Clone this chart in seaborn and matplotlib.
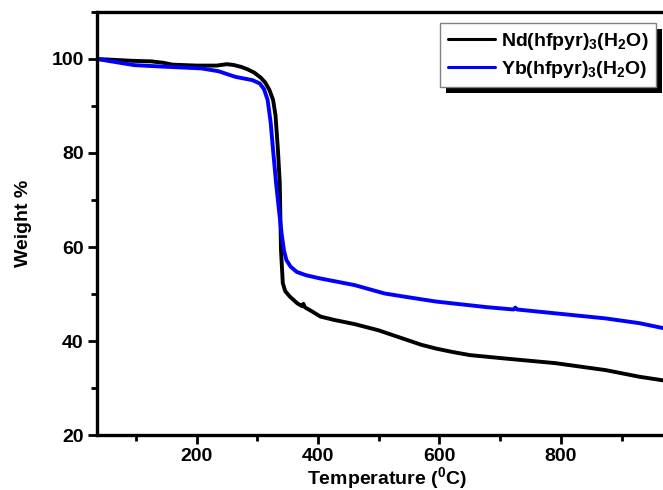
import numpy as np
import pandas as pd
import matplotlib
matplotlib.use("Agg")
import matplotlib.pyplot as plt
from matplotlib.ticker import MultipleLocator
from matplotlib.patches import Rectangle
from matplotlib.lines import Line2D
import seaborn as sns

# --- data ---
nd_temp = [36, 97, 125, 145, 160, 200, 233, 250, 262, 274, 284, 295, 306, 313, 320, 326, 330, 334, 337, 339, 342,
           346, 354, 366, 374, 376, 378, 390, 404, 426, 460, 499, 538, 570, 594, 620, 650, 706, 790, 874, 929, 985]
nd_weight = [100, 99.6, 99.5, 99.2, 98.8, 98.6, 98.6, 98.9, 98.7, 98.3, 97.8, 97.1, 96.0, 95.0, 93.4, 91.3, 88.0, 80.6, 73.6, 59.4, 52.3,
             50.6, 49.4, 48.0, 47.4, 47.9, 47.2, 46.3, 45.2, 44.5, 43.6, 42.3, 40.6, 39.2, 38.4, 37.7, 37.0, 36.3, 35.3, 33.8, 32.4, 31.3]
yb_temp = [36, 97, 141, 208, 236, 264, 292, 304, 311, 317, 322, 326, 331, 336, 340, 344, 348, 355, 365, 380, 404,
           460, 510, 544, 594, 678, 722, 725, 728, 790, 874, 929, 985]
yb_weight = [100, 98.7, 98.4, 98.0, 97.4, 96.2, 95.5, 94.8, 93.6, 91.3, 86.5, 80.6, 73.5, 67.5, 62.9, 59.2, 57.2, 55.8, 54.7, 54.0, 53.3,
             51.9, 50.1, 49.4, 48.4, 47.2, 46.7, 47.1, 46.7, 45.9, 44.8, 43.8, 42.3]
series_names = ["Nd(hfpyr)$_3$(H$_2$O)", "Yb(hfpyr)$_3$(H$_2$O)"]

df = pd.concat([
    pd.DataFrame({"Temperature": nd_temp, "Weight": nd_weight, "Sample": series_names[0]}),
    pd.DataFrame({"Temperature": yb_temp, "Weight": yb_weight, "Sample": series_names[1]}),
])

sns.set_theme(style="white")
plt.rcParams["font.family"] = ["Liberation Sans", "DejaVu Sans"]
plt.rcParams["font.weight"] = "bold"
plt.rcParams["text.color"] = "black"
plt.rcParams["axes.labelcolor"] = "black"
plt.rcParams["xtick.color"] = "black"
plt.rcParams["ytick.color"] = "black"
plt.rcParams["mathtext.fontset"] = "custom"
plt.rcParams["mathtext.rm"] = "Liberation Sans:bold"
plt.rcParams["mathtext.it"] = "Liberation Sans:bold"
plt.rcParams["mathtext.bf"] = "Liberation Sans:bold"
plt.rcParams["mathtext.default"] = "rm"

FS = 14

fig = plt.figure(figsize=(6.63, 4.90), dpi=100)
ax = fig.add_axes([97 / 663, 55 / 490, 1.02 - 97 / 663, 423 / 490])

sns.lineplot(data=df, x="Temperature", y="Weight", hue="Sample", sort=False,
             palette=["black", "#0000ff"], linewidth=2.8, ax=ax, legend=False)
for ln in ax.get_lines():
    ln.set_solid_joinstyle("round")

ax.set_xlim(36, 990)
ax.set_ylim(20, 110)
ax.xaxis.set_major_locator(MultipleLocator(200))
ax.xaxis.set_minor_locator(MultipleLocator(100))
ax.yaxis.set_major_locator(MultipleLocator(20))
ax.yaxis.set_minor_locator(MultipleLocator(10))
ax.tick_params(which="major", direction="out", length=6.5, width=2, labelsize=FS,
               bottom=True, left=True, pad=3, colors="black")
ax.tick_params(which="minor", direction="out", length=4, width=2, bottom=True, left=True,
               colors="black")
for lab in ax.get_xticklabels() + ax.get_yticklabels():
    lab.set_fontweight("bold")
for s in ax.spines.values():
    s.set_linewidth(2.4)
    s.set_color("black")
ax.spines["right"].set_visible(False)

ax.set_xlabel("Temperature ($^0$C)", fontsize=FS, fontweight="bold", labelpad=0, color="black")
ax.set_ylabel("Weight %", fontsize=FS, fontweight="bold", labelpad=14, color="black")

handles = [Line2D([], [], color="black", lw=2.2), Line2D([], [], color="#0000ff", lw=2.2)]
leg = ax.legend(handles, series_names, loc="upper right",
                bbox_to_anchor=(656 / 663, 1 - 23 / 490), bbox_transform=fig.transFigure,
                borderaxespad=0, fancybox=False, frameon=True, handlelength=2.4,
                prop={"weight": "bold", "size": FS}, labelspacing=0.35,
                borderpad=0.4, handletextpad=0.3)
leg.get_frame().set_edgecolor("gray")
leg.get_frame().set_linewidth(1)
leg.get_frame().set_alpha(1)
for t in leg.get_texts():
    t.set_color("black")
leg.set_zorder(6)

fig.canvas.draw()
bb = leg.get_window_extent()
shadow = Rectangle((bb.x0 + 6, bb.y0 - 6), bb.width, bb.height, transform=None,
                   facecolor="black", edgecolor="none", zorder=4, clip_on=False)
ax.add_artist(shadow)

fig.savefig("out.png", dpi=100)
